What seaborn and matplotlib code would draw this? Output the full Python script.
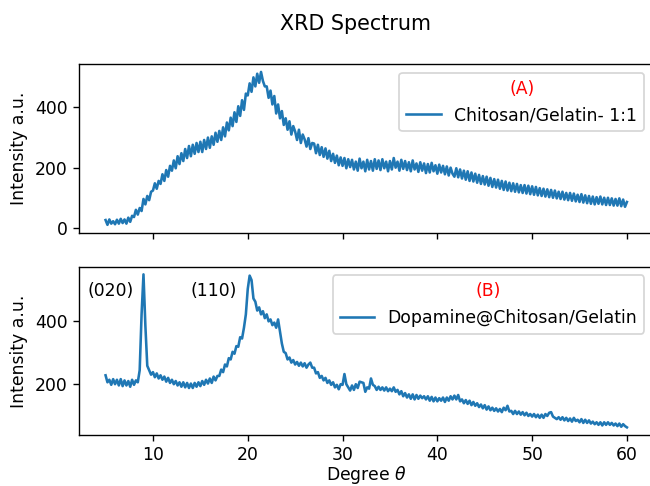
import numpy as np
import pandas as pd
import matplotlib
matplotlib.use("Agg")
import matplotlib.pyplot as plt
import seaborn as sns

# 2-theta sampling grid (degrees), 0.2 deg steps from 5 to 60
theta = np.round(np.linspace(5.0, 60.0, 276), 2)

# (A) Chitosan/Gelatin- 1:1 intensities
intensity_a = [
    26, 10, 28, 14, 22,
    12, 27, 14, 30, 16,
    28, 14, 34, 20, 40,
    36, 60, 44, 66, 56,
    96, 78, 106, 92, 120,
    124, 148, 130, 156, 146,
    178, 156, 192, 170, 206,
    190, 224, 198, 238, 212,
    248, 222, 262, 232, 272,
    238, 276, 246, 282, 252,
    286, 252, 292, 262, 300,
    266, 304, 276, 316, 286,
    322, 292, 334, 304, 350,
    324, 366, 338, 384, 352,
    404, 372, 424, 392, 446,
    440, 480, 452, 500, 470,
    512, 482, 518, 488, 470,
    470, 432, 456, 410, 438,
    380, 410, 364, 388, 342,
    364, 326, 354, 310, 338,
    320, 292, 326, 282, 310,
    294, 270, 298, 262, 282,
    280, 248, 276, 242, 268,
    236, 264, 230, 256, 222,
    246, 216, 240, 208, 234,
    206, 232, 198, 228, 202,
    226, 194, 220, 190, 230,
    198, 220, 188, 226, 194,
    222, 190, 228, 196, 224,
    192, 228, 198, 220, 188,
    222, 194, 232, 200, 220,
    190, 226, 196, 222, 192,
    218, 188, 224, 194, 214,
    186, 218, 190, 214, 182,
    212, 184, 216, 188, 208,
    180, 210, 184, 206, 178,
    204, 174, 200, 180, 170,
    198, 168, 194, 164, 190,
    160, 188, 156, 184, 154,
    180, 150, 176, 146, 172,
    144, 170, 140, 166, 136,
    162, 134, 160, 130, 156,
    126, 154, 124, 150, 122,
    148, 120, 146, 118, 142,
    116, 142, 114, 140, 112,
    138, 110, 136, 108, 132,
    106, 130, 104, 128, 102,
    126, 100, 124, 98, 120,
    96, 120, 94, 116, 92,
    116, 90, 114, 88, 110,
    86, 112, 84, 108, 82,
    106, 80, 104, 78, 102,
    80, 104, 78, 100, 76,
    100, 76, 98, 74, 96,
    74, 98, 72, 94, 70,
    86,
]

# (B) Dopamine@Chitosan/Gelatin intensities
intensity_b = [
    228, 206, 214, 198, 216,
    200, 214, 196, 216, 194,
    212, 196, 210, 192, 214,
    198, 212, 206, 244, 420,
    546, 384, 258, 244, 230,
    238, 222, 234, 218, 228,
    214, 224, 208, 220, 204,
    214, 200, 210, 196, 206,
    192, 206, 190, 204, 188,
    202, 188, 204, 192, 206,
    194, 210, 198, 214, 202,
    218, 204, 224, 212, 226,
    226, 246, 238, 262, 256,
    282, 278, 302, 296, 320,
    318, 348, 344, 378, 420,
    500, 542, 528, 470, 460,
    432, 442, 420, 430, 408,
    420, 398, 404, 386, 394,
    378, 404, 366, 328, 302,
    298, 278, 284, 268, 276,
    262, 270, 258, 268, 256,
    266, 252, 262, 268, 252,
    252, 234, 238, 220, 226,
    212, 220, 204, 212, 198,
    206, 190, 198, 184, 200,
    198, 232, 200, 190, 180,
    196, 182, 200, 188, 208,
    206, 204, 176, 190, 186,
    218, 198, 194, 182, 192,
    182, 190, 180, 190, 178,
    186, 178, 190, 176, 182,
    168, 178, 162, 172, 158,
    168, 154, 168, 152, 166,
    154, 164, 156, 162, 152,
    162, 148, 160, 146, 158,
    146, 156, 148, 158, 144,
    158, 148, 162, 152, 164,
    152, 166, 146, 152, 140,
    150, 138, 148, 134, 144,
    132, 140, 128, 136, 124,
    134, 120, 130, 118, 126,
    116, 124, 114, 122, 112,
    126, 118, 132, 114, 116,
    106, 116, 106, 114, 104,
    112, 102, 110, 100, 106,
    98, 106, 96, 104, 94,
    104, 94, 106, 100, 110,
    112, 98, 94, 90, 96,
    88, 96, 86, 94, 84,
    92, 82, 94, 84, 88,
    80, 90, 78, 88, 78,
    86, 76, 82, 74, 80,
    72, 80, 70, 80, 72,
    80, 72, 78, 70, 76,
    68, 76, 66, 74, 68,
    64,
]

labels = ["Chitosan/Gelatin- 1:1", "Dopamine@Chitosan/Gelatin"]
panel_titles = ["(A)", "(B)"]
peak_labels = ["(020)", "(110)"]
peak_label_x = [5.5, 16.4]
peak_label_y = [494, 494]

df_a = pd.DataFrame({"theta": theta, "intensity": intensity_a})
df_b = pd.DataFrame({"theta": theta, "intensity": intensity_b})

DPI = 124
fig = plt.figure(figsize=(650 / DPI, 486 / DPI), dpi=DPI)
ax1 = fig.add_axes([0.1223, 0.5216, 0.8823, 0.3461])
ax2 = fig.add_axes([0.1223, 0.1049, 0.8823, 0.3463], sharex=ax1)

color = "#1f77b4"
sns.lineplot(data=df_a, x="theta", y="intensity", ax=ax1, color=color,
             linewidth=1.5, label=labels[0], estimator=None)
sns.lineplot(data=df_b, x="theta", y="intensity", ax=ax2, color=color,
             linewidth=1.5, label=labels[1], estimator=None)

for ax, t in zip([ax1, ax2], panel_titles):
    leg = ax.legend(title=t, loc="upper right", fontsize=10, title_fontsize=10)
    leg.get_title().set_color("red")
    ax.set_ylabel("Intensity a.u.", fontsize=10)
    ax.tick_params(labelsize=10)

ax1.set_xlabel("")
ax1.tick_params(labelbottom=False)
ax2.tick_params(axis="x", pad=3)
ax2.set_xlabel(r"Degree $\theta$", fontsize=10, labelpad=0)
ax2.set_xticks([10, 20, 30, 40, 50, 60])
ax1.set_yticks([0, 200, 400])
ax2.set_yticks([200, 400])

for txt, px, py in zip(peak_labels, peak_label_x, peak_label_y):
    ax2.text(px, py, txt, ha="center", va="center", fontsize=10)

fig.suptitle("XRD Spectrum", x=0.547, y=1 - 24 / 486, va="center", fontsize=12)

fig.savefig("out.png", dpi=DPI)
